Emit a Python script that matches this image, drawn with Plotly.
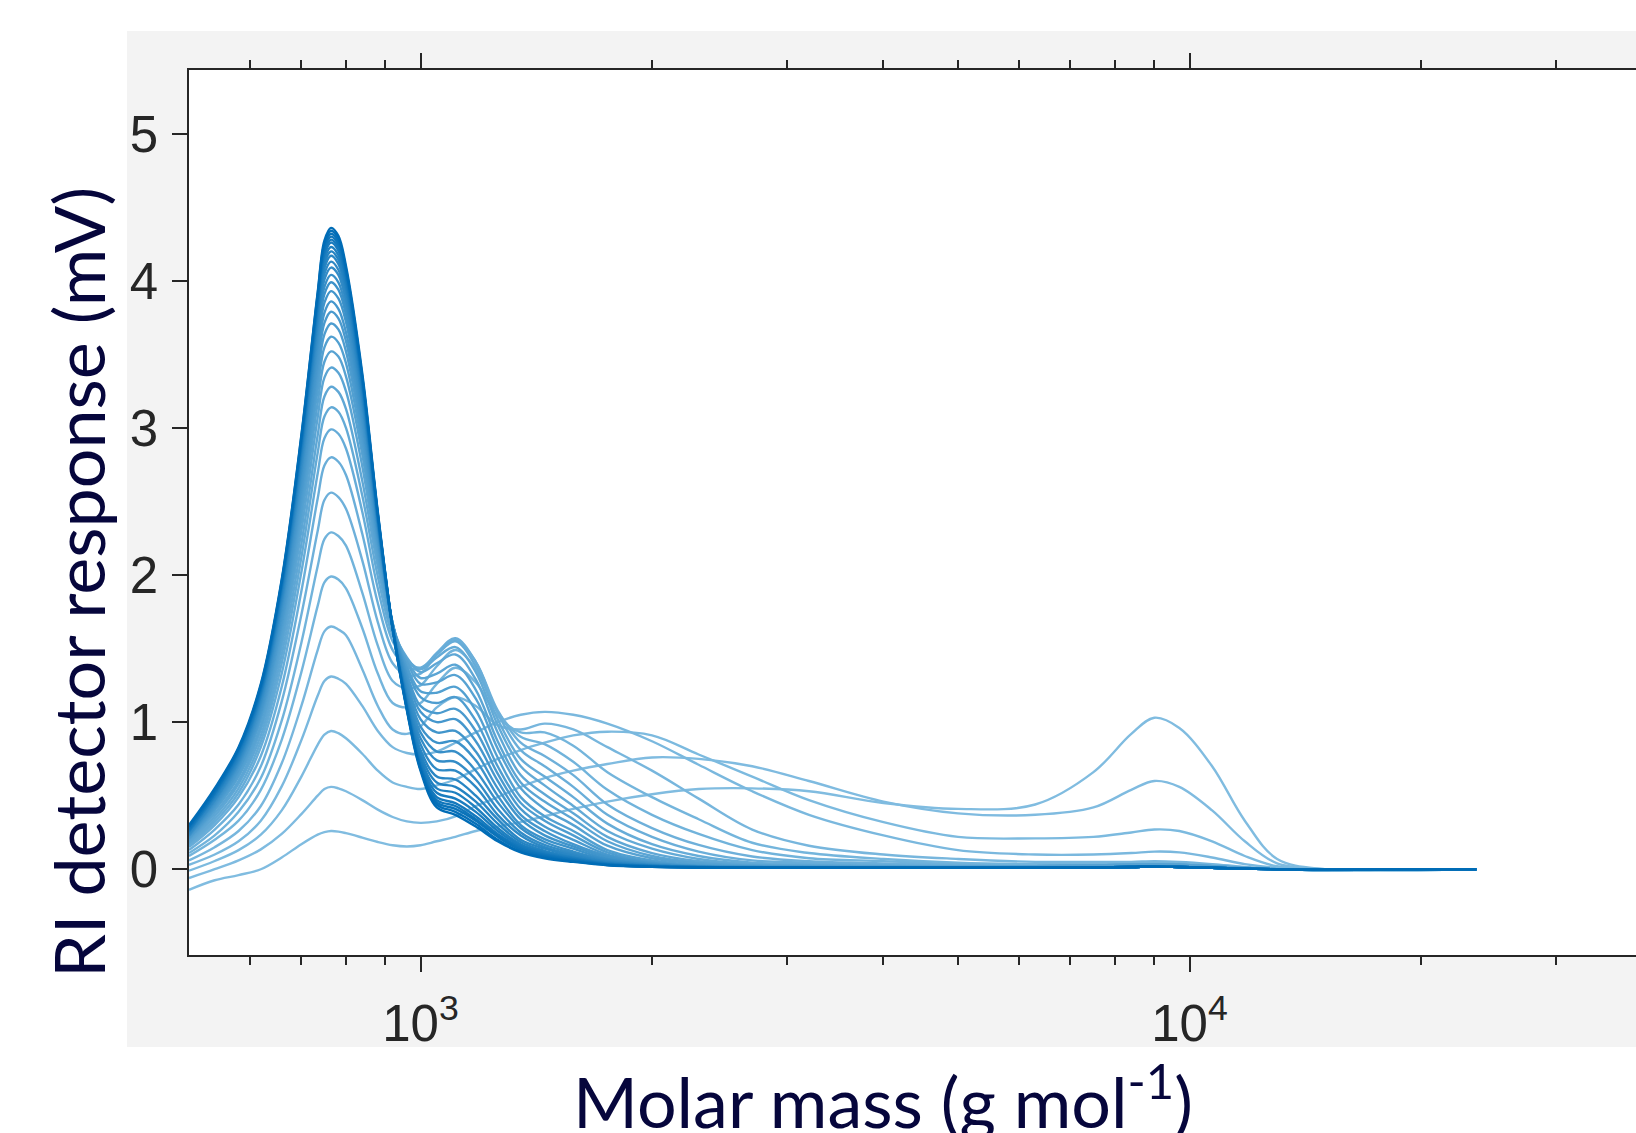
import plotly.graph_objects as go

# ---------------- data ----------------
molar_mass = [500, 540, 580, 620, 660, 700, 735, 750, 765, 782, 800, 840, 880, 920, 960, 1000,
              1050, 1110, 1180, 1260, 1350, 1450, 1580, 1750, 2000, 2300, 2700, 3200,
              4000, 5000, 6300, 7500, 8400, 9000, 9700, 10700, 11800, 13000, 15000,
              19000, 23600]

# one row per chromatogram (earliest sample first), RI response in mV
ri_response = [
    [-0.14, -0.075, -0.04, 0.0, 0.08, 0.17, 0.235, 0.252, 0.26, 0.256, 0.245, 0.215, 0.185, 0.163, 0.155, 0.163, 0.19, 0.22, 0.26, 0.29, 0.32, 0.36, 0.41, 0.46, 0.51, 0.545, 0.55, 0.53, 0.45, 0.41, 0.44, 0.66, 0.92, 1.03, 0.96, 0.70, 0.33, 0.07, 0.0, -0.005, 0.0],
    [-0.06, 0.0, 0.06, 0.135, 0.24, 0.375, 0.50, 0.545, 0.56, 0.55, 0.53, 0.47, 0.405, 0.355, 0.325, 0.315, 0.325, 0.36, 0.43, 0.49, 0.56, 0.62, 0.67, 0.715, 0.76, 0.75, 0.70, 0.60, 0.46, 0.38, 0.37, 0.42, 0.54, 0.60, 0.56, 0.40, 0.19, 0.04, 0.0, -0.005, 0.0],
    [-0.01, 0.056, 0.13, 0.235, 0.40, 0.63, 0.846, 0.915, 0.94, 0.925, 0.89, 0.785, 0.67, 0.59, 0.56, 0.545, 0.57, 0.61, 0.68, 0.75, 0.81, 0.86, 0.91, 0.935, 0.91, 0.78, 0.63, 0.47, 0.32, 0.22, 0.21, 0.22, 0.25, 0.27, 0.26, 0.19, 0.09, 0.02, 0.0, -0.005, 0.0],
    [0.03, 0.10, 0.19, 0.33, 0.563, 0.878, 1.179, 1.28, 1.31, 1.295, 1.26, 1.11, 0.94, 0.83, 0.79, 0.78, 0.80, 0.86, 0.93, 1.00, 1.05, 1.07, 1.05, 0.99, 0.87, 0.71, 0.53, 0.37, 0.23, 0.13, 0.10, 0.10, 0.11, 0.12, 0.115, 0.08, 0.035, 0.01, 0.0, -0.005, 0.0],
    [0.06, 0.15, 0.26, 0.43, 0.72, 1.11, 1.49, 1.617, 1.65, 1.63, 1.59, 1.36, 1.11, 0.95, 0.92, 0.97, 1.10, 1.17, 1.11, 0.98, 0.95, 0.99, 0.95, 0.83, 0.67, 0.48, 0.27, 0.16, 0.10, 0.07, 0.05, 0.05, 0.05, 0.055, 0.05, 0.035, 0.015, 0.0, 0.0, -0.005, 0.0],
    [0.09, 0.20, 0.33, 0.54, 0.88, 1.34, 1.79, 1.95, 1.99, 1.97, 1.91, 1.64, 1.33, 1.13, 1.10, 1.13, 1.26, 1.37, 1.27, 1.04, 0.93, 0.93, 0.84, 0.66, 0.49, 0.34, 0.18, 0.11, 0.07, 0.045, 0.035, 0.035, 0.04, 0.045, 0.04, 0.03, 0.012, 0.0, -0.005, 0.0, 0.0],
    [0.11, 0.23, 0.39, 0.62, 1.01, 1.54, 2.06, 2.244, 2.29, 2.265, 2.20, 1.88, 1.52, 1.28, 1.23, 1.25, 1.38, 1.49, 1.36, 1.07, 0.90, 0.85, 0.73, 0.54, 0.37, 0.24, 0.13, 0.075, 0.055, 0.035, 0.025, 0.028, 0.032, 0.035, 0.03, 0.02, 0.008, 0.0, -0.005, 0.0, 0.0],
    [0.13, 0.27, 0.44, 0.70, 1.14, 1.73, 2.30, 2.51, 2.56, 2.53, 2.45, 2.10, 1.68, 1.40, 1.32, 1.33, 1.46, 1.56, 1.41, 1.08, 0.86, 0.77, 0.64, 0.44, 0.28, 0.165, 0.087, 0.055, 0.04, 0.03, 0.02, 0.025, 0.03, 0.035, 0.03, 0.02, 0.008, 0.0, -0.005, 0.0, 0.0],
    [0.15, 0.30, 0.49, 0.77, 1.24, 1.89, 2.52, 2.744, 2.80, 2.77, 2.68, 2.28, 1.81, 1.49, 1.38, 1.36, 1.47, 1.57, 1.41, 1.06, 0.81, 0.70, 0.56, 0.37, 0.22, 0.12, 0.06, 0.045, 0.03, 0.025, 0.02, 0.025, 0.03, 0.035, 0.03, 0.02, 0.008, 0.0, -0.005, 0.0, 0.0],
    [0.16, 0.32, 0.52, 0.83, 1.33, 2.02, 2.69, 2.93, 2.99, 2.96, 2.86, 2.43, 1.91, 1.55, 1.41, 1.37, 1.46, 1.55, 1.38, 1.02, 0.75, 0.63, 0.49, 0.31, 0.17, 0.09, 0.045, 0.035, 0.025, 0.02, 0.02, 0.025, 0.03, 0.035, 0.03, 0.02, 0.008, 0.0, -0.005, 0.0, 0.0],
    [0.17, 0.34, 0.55, 0.87, 1.40, 2.12, 2.83, 3.077, 3.14, 3.11, 3.00, 2.54, 1.99, 1.59, 1.43, 1.36, 1.44, 1.51, 1.34, 0.98, 0.70, 0.57, 0.43, 0.26, 0.14, 0.07, 0.035, 0.028, 0.022, 0.02, 0.02, 0.025, 0.03, 0.035, 0.03, 0.02, 0.008, 0.0, -0.005, 0.0, 0.0],
    [0.18, 0.36, 0.58, 0.91, 1.46, 2.21, 2.95, 3.214, 3.28, 3.245, 3.13, 2.64, 2.06, 1.63, 1.44, 1.34, 1.40, 1.46, 1.29, 0.93, 0.64, 0.51, 0.38, 0.22, 0.11, 0.055, 0.03, 0.025, 0.02, 0.02, 0.02, 0.025, 0.03, 0.035, 0.03, 0.02, 0.008, 0.0, -0.005, 0.0, 0.0],
    [0.19, 0.38, 0.60, 0.95, 1.52, 2.30, 3.07, 3.342, 3.41, 3.375, 3.25, 2.74, 2.11, 1.64, 1.42, 1.30, 1.33, 1.39, 1.22, 0.87, 0.59, 0.46, 0.34, 0.19, 0.09, 0.045, 0.025, 0.022, 0.02, 0.02, 0.02, 0.025, 0.03, 0.035, 0.03, 0.02, 0.008, 0.0, -0.005, 0.0, 0.0],
    [0.20, 0.40, 0.63, 0.98, 1.57, 2.38, 3.17, 3.45, 3.52, 3.485, 3.35, 2.82, 2.15, 1.66, 1.41, 1.26, 1.27, 1.32, 1.16, 0.82, 0.55, 0.41, 0.30, 0.16, 0.075, 0.04, 0.025, 0.02, 0.02, 0.015, 0.02, 0.025, 0.03, 0.035, 0.03, 0.02, 0.008, 0.0, -0.005, 0.0, 0.0],
    [0.21, 0.41, 0.65, 1.02, 1.62, 2.45, 3.26, 3.548, 3.62, 3.58, 3.44, 2.88, 2.19, 1.66, 1.38, 1.21, 1.20, 1.24, 1.08, 0.76, 0.49, 0.36, 0.26, 0.13, 0.06, 0.03, 0.02, 0.018, 0.015, 0.012, 0.01, 0.012, 0.015, 0.018, 0.015, 0.01, 0.004, 0.0, -0.004, 0.0, 0.0],
    [0.21, 0.42, 0.67, 1.04, 1.66, 2.51, 3.34, 3.636, 3.71, 3.67, 3.52, 2.94, 2.22, 1.67, 1.36, 1.17, 1.13, 1.17, 1.01, 0.70, 0.45, 0.33, 0.23, 0.115, 0.05, 0.025, 0.018, 0.015, 0.013, 0.012, 0.01, 0.012, 0.015, 0.018, 0.015, 0.01, 0.004, 0.0, -0.004, 0.0, 0.0],
    [0.22, 0.43, 0.68, 1.06, 1.69, 2.56, 3.41, 3.714, 3.79, 3.745, 3.59, 2.99, 2.25, 1.67, 1.33, 1.11, 1.06, 1.09, 0.94, 0.65, 0.41, 0.29, 0.20, 0.10, 0.045, 0.022, 0.017, 0.015, 0.013, 0.012, 0.01, 0.012, 0.015, 0.018, 0.015, 0.01, 0.004, 0.0, -0.004, 0.0, 0.0],
    [0.23, 0.44, 0.70, 1.08, 1.73, 2.61, 3.47, 3.783, 3.86, 3.81, 3.65, 3.04, 2.27, 1.67, 1.31, 1.07, 1.00, 1.02, 0.87, 0.60, 0.37, 0.26, 0.17, 0.09, 0.04, 0.02, 0.016, 0.014, 0.012, 0.011, 0.01, 0.012, 0.015, 0.018, 0.015, 0.01, 0.004, 0.0, -0.004, 0.0, 0.0],
    [0.23, 0.45, 0.71, 1.10, 1.76, 2.66, 3.54, 3.851, 3.93, 3.88, 3.72, 3.08, 2.30, 1.67, 1.28, 1.02, 0.93, 0.94, 0.80, 0.55, 0.34, 0.23, 0.155, 0.08, 0.037, 0.02, 0.015, 0.013, 0.012, 0.011, 0.01, 0.012, 0.015, 0.018, 0.015, 0.01, 0.004, 0.0, -0.004, 0.0, 0.0],
    [0.23, 0.46, 0.72, 1.12, 1.79, 2.70, 3.59, 3.91, 3.99, 3.94, 3.77, 3.12, 2.31, 1.66, 1.26, 0.97, 0.86, 0.87, 0.74, 0.50, 0.30, 0.205, 0.14, 0.07, 0.033, 0.018, 0.015, 0.013, 0.012, 0.011, 0.01, 0.012, 0.015, 0.018, 0.015, 0.01, 0.004, 0.0, -0.004, 0.0, 0.0],
    [0.24, 0.47, 0.73, 1.14, 1.81, 2.73, 3.64, 3.959, 4.04, 3.99, 3.81, 3.16, 2.33, 1.66, 1.23, 0.93, 0.80, 0.80, 0.67, 0.455, 0.28, 0.185, 0.12, 0.065, 0.03, 0.017, 0.014, 0.013, 0.012, 0.011, 0.01, 0.012, 0.015, 0.018, 0.015, 0.01, 0.004, 0.0, -0.004, 0.0, 0.0],
    [0.24, 0.47, 0.74, 1.15, 1.83, 2.76, 3.68, 4.008, 4.09, 4.04, 3.86, 3.19, 2.34, 1.65, 1.20, 0.89, 0.74, 0.73, 0.61, 0.41, 0.25, 0.165, 0.11, 0.058, 0.028, 0.016, 0.014, 0.012, 0.011, 0.01, 0.01, 0.012, 0.015, 0.018, 0.015, 0.01, 0.004, 0.0, -0.004, 0.0, 0.0],
    [0.25, 0.48, 0.75, 1.17, 1.85, 2.79, 3.72, 4.047, 4.13, 4.075, 3.89, 3.21, 2.35, 1.65, 1.18, 0.85, 0.68, 0.67, 0.56, 0.37, 0.23, 0.15, 0.10, 0.052, 0.026, 0.016, 0.013, 0.012, 0.011, 0.01, 0.01, 0.012, 0.015, 0.018, 0.015, 0.01, 0.004, 0.0, -0.004, 0.0, 0.0],
    [0.26, 0.49, 0.76, 1.18, 1.87, 2.82, 3.75, 4.087, 4.17, 4.115, 3.93, 3.24, 2.37, 1.64, 1.16, 0.81, 0.63, 0.61, 0.50, 0.34, 0.20, 0.14, 0.09, 0.048, 0.025, 0.015, 0.013, 0.012, 0.011, 0.01, 0.01, 0.012, 0.015, 0.018, 0.015, 0.01, 0.004, 0.0, -0.004, 0.0, 0.0],
    [0.26, 0.50, 0.77, 1.19, 1.89, 2.84, 3.78, 4.116, 4.20, 4.145, 3.96, 3.26, 2.37, 1.64, 1.14, 0.78, 0.59, 0.56, 0.46, 0.31, 0.185, 0.125, 0.08, 0.043, 0.023, 0.015, 0.012, 0.012, 0.011, 0.01, 0.01, 0.012, 0.015, 0.018, 0.015, 0.01, 0.004, 0.0, -0.004, 0.0, 0.0],
    [0.26, 0.50, 0.78, 1.20, 1.90, 2.86, 3.81, 4.145, 4.23, 4.175, 3.98, 3.28, 2.38, 1.64, 1.13, 0.755, 0.55, 0.52, 0.42, 0.28, 0.17, 0.116, 0.077, 0.04, 0.022, 0.014, 0.012, 0.011, 0.01, 0.01, 0.01, 0.012, 0.015, 0.018, 0.015, 0.01, 0.004, 0.0, -0.004, 0.0, 0.0],
    [0.27, 0.51, 0.79, 1.21, 1.92, 2.88, 3.83, 4.175, 4.26, 4.205, 4.01, 3.30, 2.39, 1.64, 1.12, 0.73, 0.52, 0.48, 0.39, 0.26, 0.16, 0.108, 0.072, 0.038, 0.021, 0.014, 0.012, 0.011, 0.01, 0.01, 0.01, 0.012, 0.015, 0.018, 0.015, 0.01, 0.004, 0.0, -0.004, 0.0, 0.0],
    [0.27, 0.52, 0.80, 1.22, 1.93, 2.90, 3.85, 4.194, 4.28, 4.225, 4.03, 3.31, 2.40, 1.63, 1.11, 0.71, 0.49, 0.45, 0.36, 0.24, 0.15, 0.10, 0.067, 0.035, 0.02, 0.013, 0.012, 0.011, 0.01, 0.01, 0.01, 0.012, 0.015, 0.018, 0.015, 0.01, 0.004, 0.0, -0.004, 0.0, 0.0],
    [0.28, 0.52, 0.81, 1.23, 1.94, 2.91, 3.87, 4.214, 4.30, 4.245, 4.05, 3.33, 2.41, 1.64, 1.10, 0.70, 0.47, 0.43, 0.34, 0.23, 0.14, 0.095, 0.063, 0.033, 0.019, 0.013, 0.012, 0.011, 0.01, 0.01, 0.01, 0.012, 0.015, 0.018, 0.015, 0.01, 0.004, 0.0, -0.004, 0.0, 0.0],
    [0.29, 0.53, 0.81, 1.24, 1.95, 2.92, 3.89, 4.234, 4.32, 4.265, 4.07, 3.34, 2.41, 1.64, 1.09, 0.69, 0.455, 0.41, 0.33, 0.22, 0.13, 0.089, 0.059, 0.031, 0.018, 0.013, 0.012, 0.011, 0.01, 0.01, 0.01, 0.012, 0.015, 0.018, 0.015, 0.01, 0.004, 0.0, -0.004, 0.0, 0.0],
    [0.29, 0.54, 0.82, 1.25, 1.96, 2.94, 3.91, 4.253, 4.34, 4.285, 4.08, 3.35, 2.42, 1.64, 1.09, 0.68, 0.44, 0.39, 0.31, 0.20, 0.12, 0.082, 0.054, 0.029, 0.017, 0.012, 0.011, 0.011, 0.01, 0.01, 0.01, 0.012, 0.015, 0.018, 0.015, 0.01, 0.004, 0.0, -0.004, 0.0, 0.0],
    [0.30, 0.55, 0.83, 1.26, 1.97, 2.95, 3.92, 4.273, 4.36, 4.305, 4.10, 3.37, 2.43, 1.64, 1.08, 0.67, 0.42, 0.37, 0.29, 0.19, 0.115, 0.075, 0.05, 0.027, 0.016, 0.012, 0.011, 0.01, 0.01, 0.01, 0.01, 0.012, 0.015, 0.018, 0.015, 0.01, 0.004, 0.0, -0.004, 0.0, 0.0],
]

x_tick_values = [1000, 10000]
x_tick_labels = ["10<sup>3</sup>", "10<sup>4</sup>"]
x_minor_ticks = [600, 700, 800, 900, 2000, 3000, 4000, 5000, 6000, 7000, 8000, 9000, 20000, 30000]
y_tick_values = [0, 1, 2, 3, 4, 5]
x_title = "Molar mass (g mol<sup>-1</sup>)"
y_title = "RI detector response (mV)"

for i, row in enumerate(ri_response):
    if len(row) != len(molar_mass):
        raise ValueError(f"row {i} has {len(row)} values")

# ---------------- figure ----------------
W, H = 1636, 1133
L, R, T, B = 189, 0, 70, 178
pw, ph = W - L - R, H - T - B


def px(xp):
    return (xp - L) / pw


def py(yp):
    return (H - B - yp) / ph


light = (128, 188, 224)
dark = (0, 108, 182)
n = len(ri_response)
fig = go.Figure()
for i, row in enumerate(ri_response):
    f = (i / (n - 1)) ** 1.3
    c = tuple(round(light[j] + (dark[j] - light[j]) * f) for j in range(3))
    fig.add_trace(go.Scatter(
        x=molar_mass, y=row, mode="lines",
        line=dict(color=f"rgb{c}", width=2.4, shape="spline", smoothing=1.0),
        hoverinfo="skip", showlegend=False))

axis_col = "#262626"
tick_font = dict(family="Liberation Sans, Arial, sans-serif", size=51, color=axis_col)
title_font = dict(family="Lato, Open Sans, sans-serif", size=70, color="#06063c")

fig.update_layout(
    width=W, height=H,
    margin=dict(l=L, r=R, t=T, b=B, pad=0),
    paper_bgcolor="white",
    plot_bgcolor="rgba(0,0,0,0)",
    shapes=[
        dict(type="rect", xref="paper", yref="paper",
             x0=px(127), x1=1.0, y0=py(1047), y1=py(31),
             fillcolor="#f3f3f3", line=dict(width=0), layer="below"),
        dict(type="rect", xref="paper", yref="paper",
             x0=0, x1=1, y0=0, y1=1,
             fillcolor="white", line=dict(width=0), layer="below"),
    ],
    annotations=[
        dict(text=x_title, xref="paper", yref="paper", x=px(883), y=py(1097),
             xanchor="center", yanchor="middle", showarrow=False, font=title_font),
        dict(text=y_title, xref="paper", yref="paper", x=px(78), y=py(583),
             xanchor="center", yanchor="middle", showarrow=False, textangle=-90,
             font=title_font),
    ],
)

fig.update_xaxes(
    type="log", range=[2.69897, 4.5806],
    tickmode="array", tickvals=x_tick_values, ticktext=x_tick_labels,
    ticks="outside", ticklen=15, tickwidth=1.5, tickcolor=axis_col,
    minor=dict(tickmode="array", tickvals=x_minor_ticks, ticks="outside",
               ticklen=8, tickwidth=1.5, tickcolor=axis_col, showgrid=False),
    showline=True, linecolor=axis_col, linewidth=1.5, mirror="allticks",
    showgrid=False, zeroline=False, tickfont=tick_font, ticklabelstandoff=8,
)
fig.update_yaxes(
    range=[-0.583, 5.433],
    tickmode="array", tickvals=y_tick_values,
    ticks="outside", ticklen=15, tickwidth=1.5, tickcolor=axis_col,
    showline=True, linecolor=axis_col, linewidth=1.5, mirror=False,
    showgrid=False, zeroline=False, tickfont=tick_font, ticklabelstandoff=4,
)

fig.write_html(
    "out.html",
    config={"displayModeBar": False},
    post_script="document.body.style.margin='0px';document.body.style.padding='0px';document.body.style.overflow='hidden';",
)
